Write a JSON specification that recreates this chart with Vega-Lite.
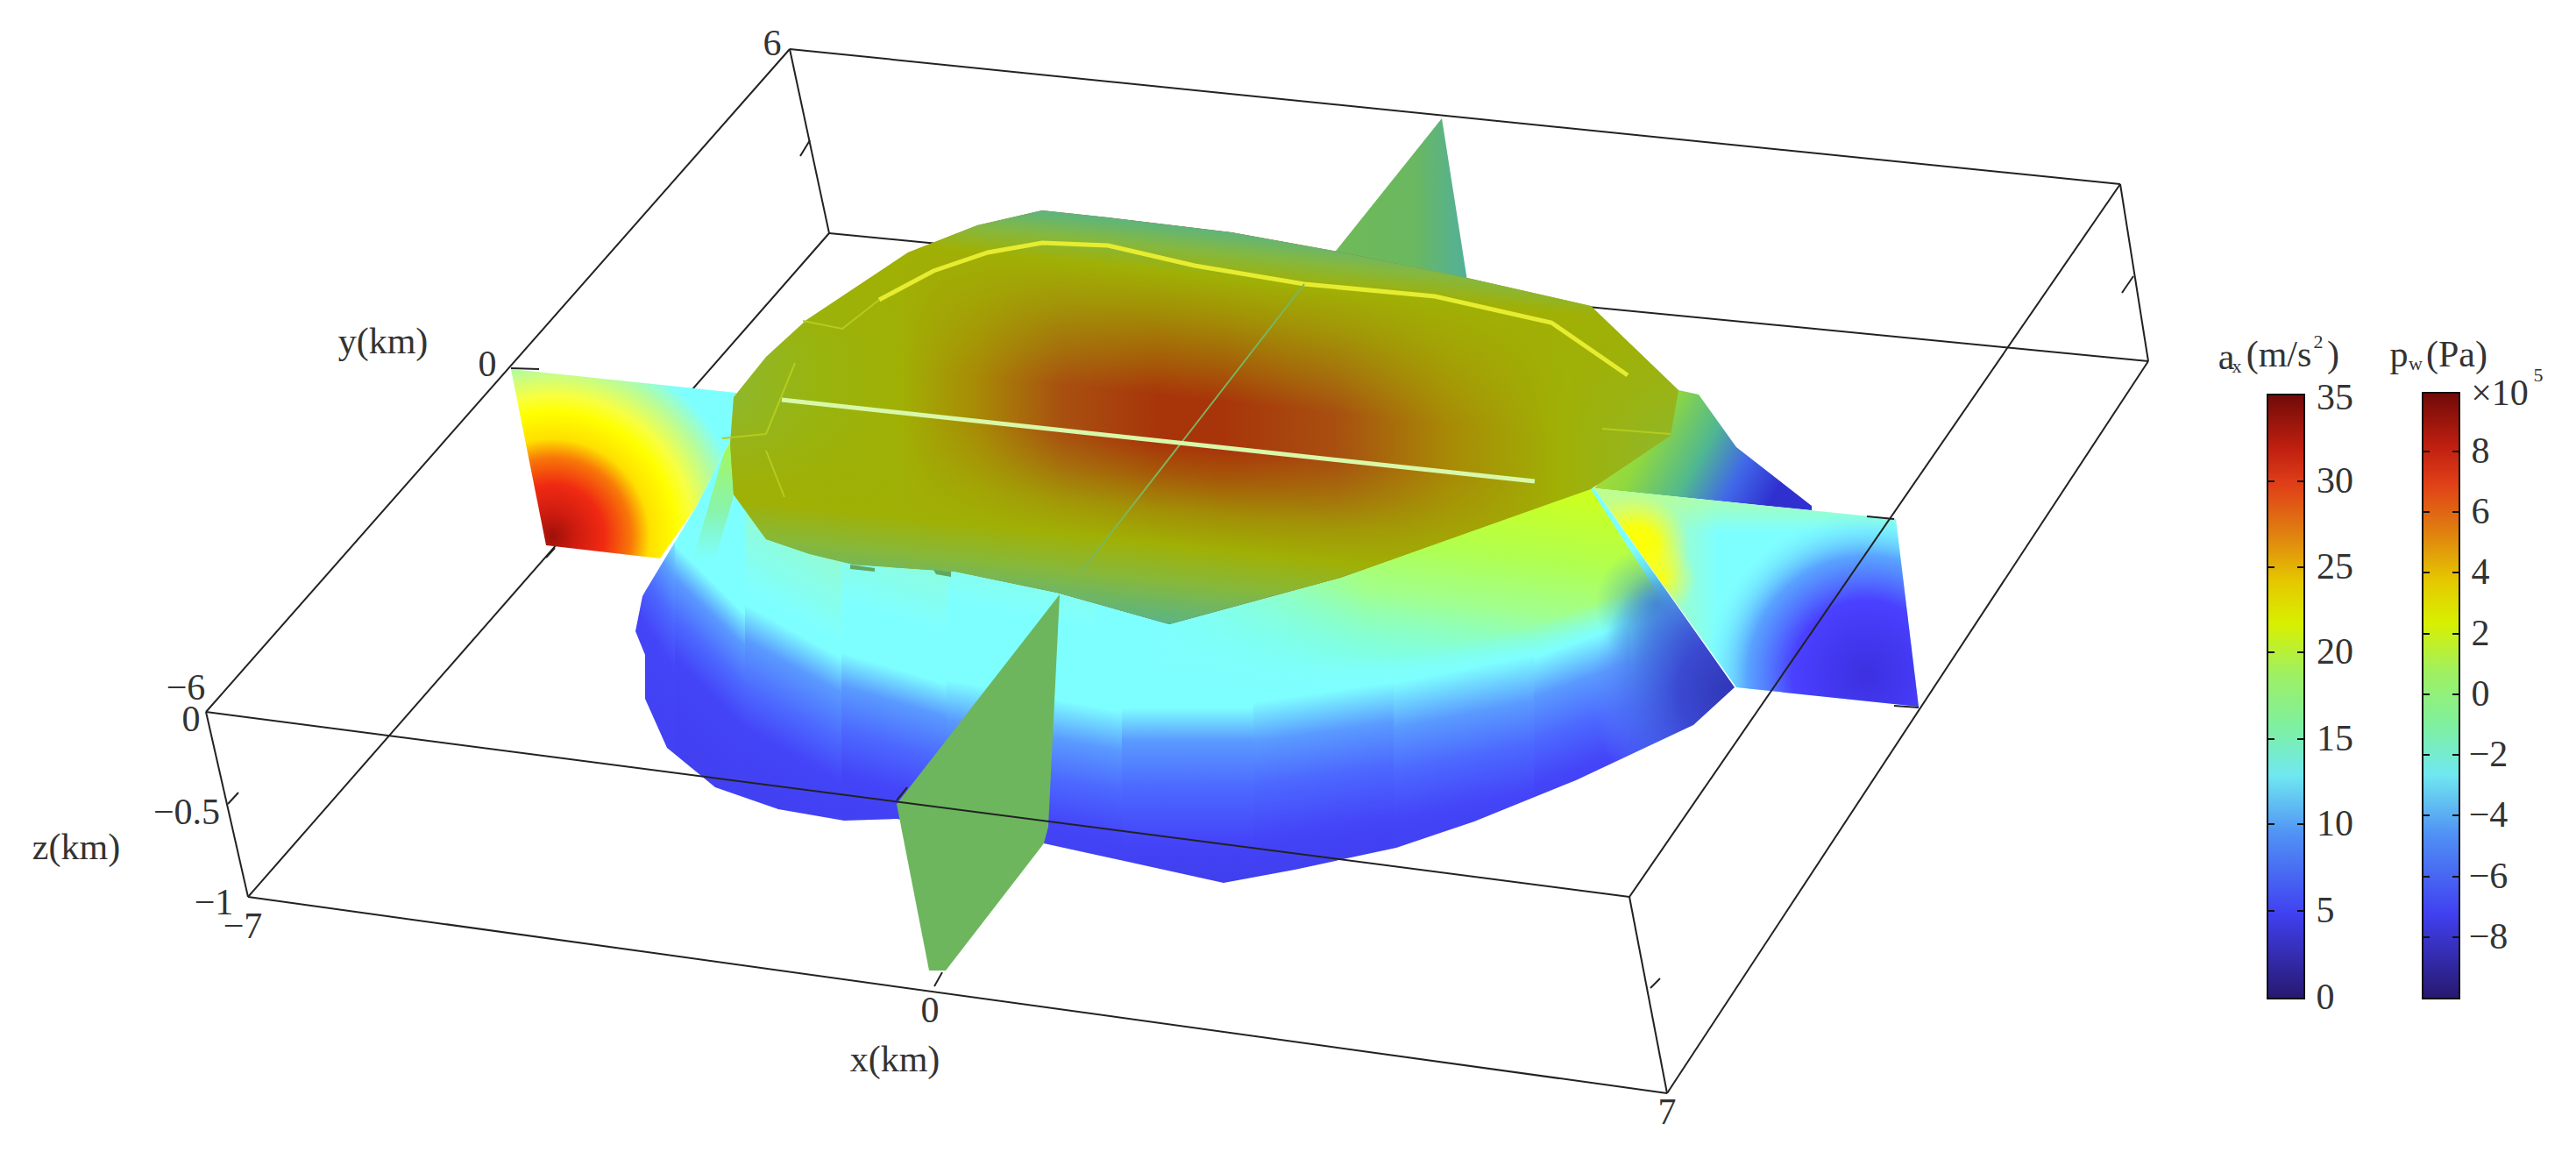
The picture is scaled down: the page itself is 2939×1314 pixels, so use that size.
{"$schema":"https://vega.github.io/schema/vega-lite/v6.json","width":2939,"height":1314,"padding":0,"autosize":{"type":"fit","contains":"padding"},"background":"white","config":{"view":{"stroke":null}},
"datasets":{
"polys":[
{"p":"top","i":0,"x":1189,"y":240},{"p":"top","i":1,"x":1115,"y":257},{"p":"top","i":2,"x":1036,"y":288},{"p":"top","i":3,"x":920,"y":365},{"p":"top","i":4,"x":874,"y":407},{"p":"top","i":5,"x":837,"y":453},{"p":"top","i":6,"x":833,"y":506},{"p":"top","i":7,"x":837,"y":564},{"p":"top","i":8,"x":874,"y":615},{"p":"top","i":9,"x":924,"y":632},{"p":"top","i":10,"x":974,"y":644},{"p":"top","i":11,"x":1090,"y":652},{"p":"top","i":12,"x":1206,"y":676},{"p":"top","i":13,"x":1334,"y":712},{"p":"top","i":14,"x":1529,"y":659},{"p":"top","i":15,"x":1815,"y":558},{"p":"top","i":16,"x":1906,"y":497},{"p":"top","i":17,"x":1915,"y":445},{"p":"top","i":18,"x":1815,"y":349},{"p":"top","i":19,"x":1674,"y":317},{"p":"top","i":20,"x":1521,"y":286},{"p":"top","i":21,"x":1405,"y":265},{"p":"top","i":22,"x":1264,"y":248},
{"p":"skirt","i":0,"x":725,"y":503},{"p":"skirt","i":1,"x":1979,"y":503},{"p":"skirt","i":2,"x":1979,"y":1007},{"p":"skirt","i":3,"x":725,"y":1007},
{"p":"mask","i":0,"x":700,"y":490},{"p":"mask","i":1,"x":2010,"y":490},{"p":"mask","i":2,"x":2010,"y":1035},{"p":"mask","i":3,"x":700,"y":1035},{"p":"mask","i":4,"x":700,"y":490},
{"p":"mask","i":5,"x":833,"y":503},{"p":"mask","i":6,"x":793,"y":580},{"p":"mask","i":7,"x":737,"y":673},{"p":"mask","i":8,"x":733,"y":680},{"p":"mask","i":9,"x":725,"y":720},{"p":"mask","i":10,"x":736,"y":747},{"p":"mask","i":11,"x":736,"y":797},{"p":"mask","i":12,"x":761,"y":853},{"p":"mask","i":13,"x":816,"y":898},{"p":"mask","i":14,"x":888,"y":923},{"p":"mask","i":15,"x":963,"y":936},{"p":"mask","i":16,"x":1023,"y":934},{"p":"mask","i":17,"x":1191,"y":962},{"p":"mask","i":18,"x":1396,"y":1007},{"p":"mask","i":19,"x":1477,"y":992},{"p":"mask","i":20,"x":1593,"y":967},{"p":"mask","i":21,"x":1682,"y":937},{"p":"mask","i":22,"x":1798,"y":890},{"p":"mask","i":23,"x":1932,"y":827},{"p":"mask","i":24,"x":1979,"y":784},{"p":"mask","i":25,"x":1819,"y":557},{"p":"mask","i":26,"x":1334,"y":600},{"p":"mask","i":27,"x":833,"y":503},{"p":"mask","i":28,"x":700,"y":490},
{"p":"lime","i":0,"x":1334,"y":712},{"p":"lime","i":1,"x":1815,"y":558},{"p":"lime","i":2,"x":1900,"y":690},{"p":"lime","i":3,"x":1979,"y":784},{"p":"lime","i":4,"x":1780,"y":840},{"p":"lime","i":5,"x":1300,"y":770},
{"p":"fade","i":0,"x":1250,"y":690},{"p":"fade","i":1,"x":1560,"y":640},{"p":"fade","i":2,"x":1560,"y":780},{"p":"fade","i":3,"x":1250,"y":780},
{"p":"strip","i":0,"x":830,"y":503},{"p":"strip","i":1,"x":842,"y":525},{"p":"strip","i":2,"x":836,"y":570},{"p":"strip","i":3,"x":815,"y":640},{"p":"strip","i":4,"x":790,"y":640},
{"p":"back","i":0,"x":1915,"y":445},{"p":"back","i":1,"x":1938,"y":450},{"p":"back","i":2,"x":1981,"y":510},{"p":"back","i":3,"x":2067,"y":577},{"p":"back","i":4,"x":2067,"y":582},{"p":"back","i":5,"x":1819,"y":557},
{"p":"leftp","i":0,"x":583,"y":421},{"p":"leftp","i":1,"x":623,"y":622},{"p":"leftp","i":2,"x":753,"y":637},{"p":"leftp","i":3,"x":793,"y":580},{"p":"leftp","i":4,"x":833,"y":503},{"p":"leftp","i":5,"x":840,"y":448},
{"p":"rightp","i":0,"x":1819,"y":557},{"p":"rightp","i":1,"x":2163,"y":592},{"p":"rightp","i":2,"x":2189,"y":806},{"p":"rightp","i":3,"x":1981,"y":784},
{"p":"gback","i":0,"x":1645,"y":135},{"p":"gback","i":1,"x":1521,"y":290},{"p":"gback","i":2,"x":1674,"y":320},
{"p":"gfront","i":0,"x":1209,"y":678},{"p":"gfront","i":1,"x":1196,"y":943},{"p":"gfront","i":2,"x":1191,"y":962},{"p":"gfront","i":3,"x":1079,"y":1107},{"p":"gfront","i":4,"x":1060,"y":1107},{"p":"gfront","i":5,"x":1023,"y":917},
{"p":"nub1","i":0,"x":970,"y":644},{"p":"nub1","i":1,"x":998,"y":648},{"p":"nub1","i":2,"x":998,"y":652},{"p":"nub1","i":3,"x":970,"y":649},
{"p":"nub2","i":0,"x":1065,"y":650},{"p":"nub2","i":1,"x":1085,"y":652},{"p":"nub2","i":2,"x":1085,"y":658},{"p":"nub2","i":3,"x":1068,"y":655}
],
"slices":[
{"s":1,"x":700,"x2":770,"y":503,"y2":1030},{"s":2,"x":770,"x2":850,"y":503,"y2":1030},{"s":3,"x":850,"x2":960,"y":503,"y2":1030},{"s":4,"x":960,"x2":1080,"y":503,"y2":1030},{"s":5,"x":1080,"x2":1280,"y":503,"y2":1030},{"s":6,"x":1280,"x2":1430,"y":503,"y2":1030},{"s":7,"x":1430,"x2":1590,"y":503,"y2":1030},{"s":8,"x":1590,"x2":1750,"y":503,"y2":1030},{"s":9,"x":1750,"x2":1860,"y":503,"y2":1030},{"s":10,"x":1860,"x2":1940,"y":503,"y2":1030},{"s":11,"x":1940,"x2":2000,"y":503,"y2":1030}
],
"backEdges":[
{"e":"a","i":0,"x":901,"y":56},{"e":"a","i":1,"x":2419,"y":210},
{"e":"b","i":0,"x":901,"y":56},{"e":"b","i":1,"x":235,"y":812},
{"e":"c","i":0,"x":901,"y":56},{"e":"c","i":1,"x":946,"y":266},
{"e":"d","i":0,"x":946,"y":266},{"e":"d","i":1,"x":283,"y":1023},
{"e":"f","i":0,"x":946,"y":266},{"e":"f","i":1,"x":2451,"y":412},
{"e":"g","i":0,"x":2419,"y":210},{"e":"g","i":1,"x":2451,"y":412},
{"e":"h","i":0,"x":2451,"y":412},{"e":"h","i":1,"x":1902,"y":1247}
],
"frontEdges":[
{"e":"k","i":0,"x":2419,"y":210},{"e":"k","i":1,"x":1859,"y":1023},
{"e":"l","i":0,"x":235,"y":812},{"e":"l","i":1,"x":1859,"y":1023},
{"e":"m","i":0,"x":235,"y":812},{"e":"m","i":1,"x":283,"y":1023},
{"e":"n","i":0,"x":283,"y":1023},{"e":"n","i":1,"x":1902,"y":1247},
{"e":"o","i":0,"x":1859,"y":1023},{"e":"o","i":1,"x":1902,"y":1247},
{"e":"t1","i":0,"x":1075,"y":1109},{"e":"t1","i":1,"x":1066,"y":1125},
{"e":"t2","i":0,"x":1035,"y":898},{"e":"t2","i":1,"x":1023,"y":913},
{"e":"t3","i":0,"x":583,"y":420},{"e":"t3","i":1,"x":615,"y":421},
{"e":"t4","i":0,"x":2130,"y":589},{"e":"t4","i":1,"x":2161,"y":592},
{"e":"t5","i":0,"x":2161,"y":805},{"e":"t5","i":1,"x":2189,"y":807},
{"e":"t6","i":0,"x":260,"y":917},{"e":"t6","i":1,"x":272,"y":904},
{"e":"t7","i":0,"x":913,"y":178},{"e":"t7","i":1,"x":924,"y":160},
{"e":"t8","i":0,"x":2421,"y":334},{"e":"t8","i":1,"x":2434,"y":315},
{"e":"t9","i":0,"x":1883,"y":1127},{"e":"t9","i":1,"x":1894,"y":1116},
{"e":"t10","i":0,"x":633,"y":625},{"e":"t10","i":1,"x":623,"y":636}
],
"light":[{"i":0,"x":892,"y":456},{"i":1,"x":1751,"y":549}],
"vert":[{"i":0,"x":1488,"y":324},{"i":1,"x":1347,"y":506},{"i":2,"x":1231,"y":655}],
"yellow":[{"i":0,"x":1003,"y":342},{"i":1,"x":1065,"y":309},{"i":2,"x":1127,"y":288},{"i":3,"x":1189,"y":277},{"i":4,"x":1264,"y":280},{"i":5,"x":1363,"y":303},{"i":6,"x":1488,"y":324},{"i":7,"x":1637,"y":338},{"i":8,"x":1770,"y":368},{"i":9,"x":1857,"y":428}],
"minor":[{"e":"a","i":0,"x":824,"y":500},{"e":"a","i":1,"x":874,"y":495},{"e":"b","i":0,"x":916,"y":366},{"e":"b","i":1,"x":961,"y":375},{"e":"b","i":2,"x":1003,"y":342},{"e":"c","i":0,"x":1828,"y":489},{"e":"c","i":1,"x":1906,"y":495},{"e":"d","i":0,"x":907,"y":414},{"e":"d","i":1,"x":874,"y":495},{"e":"f","i":0,"x":874,"y":514},{"e":"f","i":1,"x":895,"y":567}],
"labels":[
{"t":"6","x":881,"y":50},{"t":"y(km)","x":437,"y":390},{"t":"0","x":556,"y":416},{"t":"−6","x":212,"y":785},{"t":"0","x":218,"y":821},{"t":"−0.5","x":213,"y":927},{"t":"z(km)","x":87,"y":967},{"t":"−1","x":244,"y":1030},{"t":"−7","x":277,"y":1057},{"t":"0","x":1061,"y":1153},{"t":"x(km)","x":1021,"y":1209},{"t":"7","x":1902,"y":1269},
{"t":"35","x":2664,"y":454},{"t":"30","x":2664,"y":549},{"t":"25","x":2664,"y":647},{"t":"20","x":2664,"y":744},{"t":"15","x":2664,"y":843},{"t":"10","x":2664,"y":940},{"t":"5","x":2653,"y":1039},{"t":"0","x":2653,"y":1138},
{"t":"8","x":2830,"y":515},{"t":"6","x":2830,"y":584},{"t":"4","x":2830,"y":653},{"t":"2","x":2830,"y":723},{"t":"0","x":2830,"y":792},{"t":"−2","x":2839,"y":861},{"t":"−4","x":2839,"y":930},{"t":"−6","x":2839,"y":1000},{"t":"−8","x":2839,"y":1069},
{"t":"×10","x":2852,"y":449},
{"t":"a","x":2540,"y":408},{"t":"(m/s","x":2600,"y":405},{"t":")","x":2662,"y":405},{"t":"p","x":2737,"y":405},{"t":"(Pa)","x":2803,"y":405}
],
"small":[{"t":"x","x":2552,"y":418},{"t":"2","x":2645,"y":390},{"t":"w","x":2756,"y":415},{"t":"5","x":2896,"y":428}],
"bars":[{"x":2587,"x2":2629,"y":450,"y2":1139},{"x":2764,"x2":2806,"y":448,"y2":1139}],
"barTicks":[
{"x":2587,"x2":2595,"y":549},{"x":2621,"x2":2629,"y":549},{"x":2587,"x2":2595,"y":647},{"x":2621,"x2":2629,"y":647},{"x":2587,"x2":2595,"y":744},{"x":2621,"x2":2629,"y":744},{"x":2587,"x2":2595,"y":843},{"x":2621,"x2":2629,"y":843},{"x":2587,"x2":2595,"y":940},{"x":2621,"x2":2629,"y":940},{"x":2587,"x2":2595,"y":1039},{"x":2621,"x2":2629,"y":1039},
{"x":2764,"x2":2772,"y":515},{"x":2798,"x2":2806,"y":515},{"x":2764,"x2":2772,"y":584},{"x":2798,"x2":2806,"y":584},{"x":2764,"x2":2772,"y":653},{"x":2798,"x2":2806,"y":653},{"x":2764,"x2":2772,"y":723},{"x":2798,"x2":2806,"y":723},{"x":2764,"x2":2772,"y":792},{"x":2798,"x2":2806,"y":792},{"x":2764,"x2":2772,"y":861},{"x":2798,"x2":2806,"y":861},{"x":2764,"x2":2772,"y":930},{"x":2798,"x2":2806,"y":930},{"x":2764,"x2":2772,"y":1000},{"x":2798,"x2":2806,"y":1000},{"x":2764,"x2":2772,"y":1069},{"x":2798,"x2":2806,"y":1069}
]
},
"data":{"name":"polys"},
"encoding":{"x":{"field":"x","type":"quantitative","scale":{"domain":[0,2939],"nice":false,"zero":false},"axis":null},"y":{"field":"y","type":"quantitative","scale":{"domain":[1314,0],"nice":false,"zero":false},"axis":null},"order":{"field":"i","type":"quantitative"}},
"layer":[
{"transform":[{"filter":"datum.p==='skirt'"}],"mark":{"type":"line","filled":true,"strokeWidth":0,"fill":"#7effff"}},
{"data":{"name":"slices"},"transform":[{"filter":"datum.s===1"}],"mark":{"type":"rect","fill":{"gradient":"linear","x1":0.6,"y1":0,"x2":0.4,"y2":1,"stops":[{"offset":0,"color":"#7effff"},{"offset":0.114,"color":"#7effff"},{"offset":0.214,"color":"#5a9aff"},{"offset":0.3,"color":"#4c68ff"},{"offset":0.4,"color":"#4444f8"},{"offset":1,"color":"#3c3ce8"}]}},"encoding":{"x2":{"field":"x2"},"y2":{"field":"y2"},"order":null}},
{"data":{"name":"slices"},"transform":[{"filter":"datum.s===2"}],"mark":{"type":"rect","fill":{"gradient":"linear","x1":0.575,"y1":0,"x2":0.425,"y2":1,"stops":[{"offset":0,"color":"#7effff"},{"offset":0.303,"color":"#7effff"},{"offset":0.374,"color":"#5a9aff"},{"offset":0.459,"color":"#4c68ff"},{"offset":0.545,"color":"#4444f8"},{"offset":1,"color":"#3c3ce8"}]}},"encoding":{"x2":{"field":"x2"},"y2":{"field":"y2"},"order":null}},
{"data":{"name":"slices"},"transform":[{"filter":"datum.s===3"}],"mark":{"type":"rect","fill":{"gradient":"linear","x1":0.558,"y1":0,"x2":0.442,"y2":1,"stops":[{"offset":0,"color":"#a0f8b0"},{"offset":0.22,"color":"#90fcd8"},{"offset":0.38,"color":"#7effff"},{"offset":0.412,"color":"#7effff"},{"offset":0.488,"color":"#5a9aff"},{"offset":0.592,"color":"#4c68ff"},{"offset":0.677,"color":"#4444f8"},{"offset":1,"color":"#3c3ce8"}]}},"encoding":{"x2":{"field":"x2"},"y2":{"field":"y2"},"order":null}},
{"data":{"name":"slices"},"transform":[{"filter":"datum.s===4"}],"mark":{"type":"rect","fill":{"gradient":"linear","x1":0.534,"y1":0,"x2":0.466,"y2":1,"stops":[{"offset":0,"color":"#a0f8b0"},{"offset":0.22,"color":"#90fcd8"},{"offset":0.38,"color":"#7effff"},{"offset":0.491,"color":"#7effff"},{"offset":0.564,"color":"#5a9aff"},{"offset":0.658,"color":"#4c68ff"},{"offset":0.753,"color":"#4444f8"},{"offset":1,"color":"#3c3ce8"}]}},"encoding":{"x2":{"field":"x2"},"y2":{"field":"y2"},"order":null}},
{"data":{"name":"slices"},"transform":[{"filter":"datum.s===5"}],"mark":{"type":"rect","fill":{"gradient":"linear","x1":0.534,"y1":0,"x2":0.466,"y2":1,"stops":[{"offset":0,"color":"#a0f8b0"},{"offset":0.22,"color":"#90fcd8"},{"offset":0.38,"color":"#7effff"},{"offset":0.55,"color":"#7effff"},{"offset":0.636,"color":"#5a9aff"},{"offset":0.725,"color":"#4c68ff"},{"offset":0.82,"color":"#4444f8"},{"offset":1,"color":"#3c3ce8"}]}},"encoding":{"x2":{"field":"x2"},"y2":{"field":"y2"},"order":null}},
{"data":{"name":"slices"},"transform":[{"filter":"datum.s===6"}],"mark":{"type":"rect","fill":{"gradient":"linear","x1":0.5,"y1":0,"x2":0.5,"y2":1,"stops":[{"offset":0,"color":"#7effff"},{"offset":0.577,"color":"#7effff"},{"offset":0.649,"color":"#5a9aff"},{"offset":0.753,"color":"#4c68ff"},{"offset":0.867,"color":"#4444f8"},{"offset":1,"color":"#3c3ce8"}]}},"encoding":{"x2":{"field":"x2"},"y2":{"field":"y2"},"order":null}},
{"transform":[{"filter":"datum.p==='lime'"}],"mark":{"type":"line","filled":true,"strokeWidth":0,"fill":{"gradient":"linear","x1":0.8,"y1":0,"x2":0.5,"y2":1,"stops":[{"offset":0,"color":"#d0ff18"},{"offset":0.3,"color":"#b0ff50"},{"offset":0.5,"color":"#a0ff90"},{"offset":0.72,"color":"rgba(130,255,200,0.55)"},{"offset":0.92,"color":"rgba(125,255,255,0)"},{"offset":1,"color":"rgba(125,255,255,0)"}]}}},
{"transform":[{"filter":"datum.p==='fade'"}],"mark":{"type":"line","filled":true,"strokeWidth":0,"fill":{"gradient":"linear","x1":0,"y1":0,"x2":1,"y2":0,"stops":[{"offset":0,"color":"rgba(126,255,255,1)"},{"offset":0.2,"color":"rgba(126,255,255,1)"},{"offset":1,"color":"rgba(126,255,255,0)"}]}}},
{"data":{"name":"slices"},"transform":[{"filter":"datum.s===7"}],"mark":{"type":"rect","fill":{"gradient":"linear","x1":0.478,"y1":0,"x2":0.522,"y2":1,"stops":[{"offset":0,"color":"rgba(126,255,255,0)"},{"offset":0.48,"color":"rgba(126,255,255,0)"},{"offset":0.543,"color":"#7effff"},{"offset":0.63,"color":"#5a9aff"},{"offset":0.725,"color":"#4c68ff"},{"offset":0.839,"color":"#4444f8"},{"offset":1,"color":"#3c3ce8"}]}},"encoding":{"x2":{"field":"x2"},"y2":{"field":"y2"},"order":null}},
{"data":{"name":"slices"},"transform":[{"filter":"datum.s===8"}],"mark":{"type":"rect","fill":{"gradient":"linear","x1":0.47,"y1":0,"x2":0.53,"y2":1,"stops":[{"offset":0,"color":"rgba(126,255,255,0)"},{"offset":0.43,"color":"rgba(126,255,255,0)"},{"offset":0.493,"color":"#7effff"},{"offset":0.592,"color":"#5a9aff"},{"offset":0.687,"color":"#4c68ff"},{"offset":0.791,"color":"#4444f8"},{"offset":1,"color":"#3c3ce8"}]}},"encoding":{"x2":{"field":"x2"},"y2":{"field":"y2"},"order":null}},
{"data":{"name":"slices"},"transform":[{"filter":"datum.s===9"}],"mark":{"type":"rect","fill":{"gradient":"linear","x1":0.462,"y1":0,"x2":0.538,"y2":1,"stops":[{"offset":0,"color":"rgba(126,255,255,0)"},{"offset":0.36,"color":"rgba(126,255,255,0)"},{"offset":0.431,"color":"#7effff"},{"offset":0.516,"color":"#5a9aff"},{"offset":0.611,"color":"#4c68ff"},{"offset":0.706,"color":"#4444f8"},{"offset":1,"color":"#3c3ce8"}]}},"encoding":{"x2":{"field":"x2"},"y2":{"field":"y2"},"order":null}},
{"data":{"name":"slices"},"transform":[{"filter":"datum.s===10"}],"mark":{"type":"rect","fill":{"gradient":"linear","x1":0.468,"y1":0,"x2":0.532,"y2":1,"stops":[{"offset":0,"color":"rgba(126,255,255,0)"},{"offset":0.3,"color":"rgba(126,255,255,0)"},{"offset":0.374,"color":"#7effff"},{"offset":0.459,"color":"#5a9aff"},{"offset":0.545,"color":"#4c68ff"},{"offset":0.63,"color":"#4444f8"},{"offset":1,"color":"#3c3ce8"}]}},"encoding":{"x2":{"field":"x2"},"y2":{"field":"y2"},"order":null}},
{"data":{"name":"slices"},"transform":[{"filter":"datum.s===11"}],"mark":{"type":"rect","fill":{"gradient":"linear","x1":0.466,"y1":0,"x2":0.534,"y2":1,"stops":[{"offset":0,"color":"rgba(126,255,255,0)"},{"offset":0.22,"color":"rgba(126,255,255,0)"},{"offset":0.298,"color":"#7effff"},{"offset":0.383,"color":"#5a9aff"},{"offset":0.459,"color":"#4c68ff"},{"offset":0.545,"color":"#4444f8"},{"offset":1,"color":"#3c3ce8"}]}},"encoding":{"x2":{"field":"x2"},"y2":{"field":"y2"},"order":null}},
{"transform":[{"filter":"datum.p==='skirt'"}],"mark":{"type":"line","filled":true,"strokeWidth":0,"fill":{"gradient":"radial","x1":0.929,"y1":0.448,"r1":0,"x2":0.929,"y2":0.448,"r2":0.056,"stops":[{"offset":0,"color":"rgba(50,120,190,0.8)"},{"offset":1,"color":"rgba(60,170,200,0)"}]}}},
{"transform":[{"filter":"datum.p==='skirt'"}],"mark":{"type":"line","filled":true,"strokeWidth":0,"fill":{"gradient":"radial","x1":0.96,"y1":0.48,"r1":0,"x2":0.96,"y2":0.48,"r2":0.075,"stops":[{"offset":0,"color":"rgba(50,80,190,0.85)"},{"offset":1,"color":"rgba(60,150,220,0)"}]}}},
{"transform":[{"filter":"datum.p==='skirt'"}],"mark":{"type":"line","filled":true,"strokeWidth":0,"fill":{"gradient":"radial","x1":1.0,"y1":0.528,"r1":0,"x2":1.0,"y2":0.528,"r2":0.13,"stops":[{"offset":0,"color":"#2f35b5"},{"offset":0.4,"color":"rgba(58,72,208,0.95)"},{"offset":0.7,"color":"rgba(70,110,230,0.6)"},{"offset":1,"color":"rgba(90,150,250,0)"}]}}},
{"transform":[{"filter":"datum.p==='strip'"}],"mark":{"type":"line","filled":true,"strokeWidth":0,"fill":{"gradient":"linear","x1":0,"y1":0,"x2":0,"y2":1,"stops":[{"offset":0,"color":"rgba(168,248,80,1)"},{"offset":0.6,"color":"rgba(140,240,140,0.7)"},{"offset":1,"color":"rgba(130,240,170,0)"}]}}},
{"transform":[{"filter":"datum.p==='mask'"}],"mark":{"type":"line","filled":true,"strokeWidth":0,"fill":"white"}},
{"data":{"name":"backEdges"},"mark":{"type":"line","color":"#222","strokeWidth":2},"encoding":{"detail":{"field":"e"}}},
{"transform":[{"filter":"datum.p==='gback'"}],"mark":{"type":"line","filled":true,"strokeWidth":0,"fill":{"gradient":"linear","x1":0,"y1":0,"x2":1,"y2":0,"stops":[{"offset":0,"color":"#6fba58"},{"offset":0.6,"color":"#6ab860"},{"offset":1,"color":"#52b09a"}]}}},
{"transform":[{"filter":"datum.p==='back'"}],"mark":{"type":"line","filled":true,"strokeWidth":0,"fill":{"gradient":"linear","x1":0,"y1":0,"x2":1,"y2":0.3,"stops":[{"offset":0,"color":"#c5e030"},{"offset":0.35,"color":"#8fd840"},{"offset":0.6,"color":"#50b890"},{"offset":0.8,"color":"#4068e8"},{"offset":1,"color":"#3030d0"}]}}},
{"transform":[{"filter":"datum.p==='leftp'"}],"mark":{"type":"line","filled":true,"strokeWidth":0,"fill":{"gradient":"radial","x1":0.184,"y1":0.822,"r1":0,"x2":0.184,"y2":0.822,"r2":0.92,"stops":[{"offset":0,"color":"#a01008"},{"offset":0.12,"color":"#d01c10"},{"offset":0.25,"color":"#f02a12"},{"offset":0.38,"color":"#f87808"},{"offset":0.47,"color":"#ffe000"},{"offset":0.6,"color":"#ffff00"},{"offset":0.68,"color":"#f8ff40"},{"offset":0.82,"color":"#b4fca0"},{"offset":0.93,"color":"#7effff"}]}}},
{"transform":[{"filter":"datum.p==='rightp'"}],"mark":{"type":"line","filled":true,"strokeWidth":0,"fill":{"gradient":"linear","x1":0,"y1":0,"x2":1,"y2":0,"stops":[{"offset":0,"color":"#e0fb60"},{"offset":0.15,"color":"#b4fca0"},{"offset":0.38,"color":"#7effff"},{"offset":1,"color":"#7effff"}]}}},
{"transform":[{"filter":"datum.p==='rightp'"}],"mark":{"type":"line","filled":true,"strokeWidth":0,"fill":{"gradient":"linear","x1":0,"y1":0,"x2":0,"y2":1,"stops":[{"offset":0,"color":"rgba(184,255,150,0.9)"},{"offset":0.2,"color":"rgba(184,255,150,0)"},{"offset":1,"color":"rgba(184,255,150,0)"}]}}},
{"transform":[{"filter":"datum.p==='rightp'"}],"mark":{"type":"line","filled":true,"strokeWidth":0,"fill":{"gradient":"radial","x1":0.132,"y1":0.342,"r1":0,"x2":0.132,"y2":0.342,"r2":0.16,"stops":[{"offset":0,"color":"rgba(255,255,0,1)"},{"offset":0.4,"color":"rgba(255,255,0,0.9)"},{"offset":1,"color":"rgba(255,255,60,0)"}]}}},
{"transform":[{"filter":"datum.p==='rightp'"}],"mark":{"type":"line","filled":true,"strokeWidth":0,"fill":{"gradient":"radial","x1":0.205,"y1":0.442,"r1":0,"x2":0.205,"y2":0.442,"r2":0.11,"stops":[{"offset":0,"color":"rgba(255,255,0,0.9)"},{"offset":1,"color":"rgba(255,255,60,0)"}]}}},
{"transform":[{"filter":"datum.p==='rightp'"}],"mark":{"type":"line","filled":true,"strokeWidth":0,"fill":{"gradient":"radial","x1":0.84,"y1":0.739,"r1":0,"x2":0.84,"y2":0.739,"r2":0.51,"stops":[{"offset":0,"color":"#3c30e0"},{"offset":0.45,"color":"#4a40ff"},{"offset":0.72,"color":"rgba(80,140,255,0.8)"},{"offset":1,"color":"rgba(125,255,255,0)"}]}}},
{"transform":[{"filter":"datum.p==='top'"}],"mark":{"type":"line","filled":true,"strokeWidth":0,"fill":{"gradient":"linear","x1":0,"y1":0,"x2":1,"y2":0,"stops":[{"offset":0,"color":"#8fb82c"},{"offset":0.09,"color":"#98b40f"},{"offset":0.18,"color":"#a0b005"},{"offset":0.26,"color":"#a88a06"},{"offset":0.35,"color":"#a85010"},{"offset":0.45,"color":"#a8350a"},{"offset":0.52,"color":"#a8350a"},{"offset":0.64,"color":"#a85010"},{"offset":0.758,"color":"#a88a06"},{"offset":0.873,"color":"#a0b005"},{"offset":1,"color":"#8fb82c"}]}}},
{"transform":[{"filter":"datum.p==='top'"}],"mark":{"type":"line","filled":true,"strokeWidth":0,"fill":{"gradient":"linear","x1":0.62,"y1":0,"x2":0.38,"y2":1,"stops":[{"offset":0,"color":"#5ab585"},{"offset":0.07,"color":"#5fb57a"},{"offset":0.12,"color":"#85b840"},{"offset":0.176,"color":"#a0b005"},{"offset":0.27,"color":"rgba(160,176,5,0.72)"},{"offset":0.385,"color":"rgba(160,176,5,0.3)"},{"offset":0.46,"color":"rgba(160,176,5,0)"},{"offset":0.57,"color":"rgba(160,176,5,0)"},{"offset":0.64,"color":"rgba(160,176,5,0.3)"},{"offset":0.72,"color":"rgba(160,176,5,0.72)"},{"offset":0.8,"color":"#a0b005"},{"offset":0.88,"color":"#88b838"},{"offset":0.98,"color":"#5ab585"}]}}},
{"transform":[{"filter":"datum.p==='nub1'||datum.p==='nub2'"}],"mark":{"type":"line","filled":true,"strokeWidth":0,"fill":"#5fa860"},"encoding":{"detail":{"field":"p"}}},
{"data":{"name":"yellow"},"mark":{"type":"line","color":"#e6ec30","strokeWidth":5}},
{"data":{"name":"minor"},"mark":{"type":"line","color":"#b4cc20","strokeWidth":2},"encoding":{"detail":{"field":"e"}}},
{"data":{"name":"vert"},"mark":{"type":"line","color":"#78b860","strokeWidth":2}},
{"data":{"name":"light"},"mark":{"type":"line","color":"#d8f8aa","strokeWidth":5}},
{"transform":[{"filter":"datum.p==='gfront'"}],"mark":{"type":"line","filled":true,"strokeWidth":0,"fill":"#6db65e"}},
{"data":{"name":"frontEdges"},"mark":{"type":"line","color":"#222","strokeWidth":2},"encoding":{"detail":{"field":"e"}}},
{"data":{"name":"bars"},"mark":{"type":"rect","stroke":"#111","strokeWidth":2,"fill":{"gradient":"linear","x1":0,"y1":0,"x2":0,"y2":1,"stops":[{"offset":0,"color":"#700a08"},{"offset":0.09,"color":"#c02010"},{"offset":0.15,"color":"#e04018"},{"offset":0.23,"color":"#e08010"},{"offset":0.31,"color":"#e5c800"},{"offset":0.38,"color":"#d8f000"},{"offset":0.46,"color":"#a0f060"},{"offset":0.55,"color":"#7ef0a0"},{"offset":0.63,"color":"#70e8f0"},{"offset":0.73,"color":"#5090f5"},{"offset":0.86,"color":"#4040f0"},{"offset":1,"color":"#27186e"}]}},"encoding":{"x2":{"field":"x2"},"y2":{"field":"y2"},"order":null}},
{"data":{"name":"barTicks"},"mark":{"type":"rule","color":"#111","strokeWidth":2},"encoding":{"x2":{"field":"x2"},"order":null}},
{"data":{"name":"labels"},"mark":{"type":"text","font":"Liberation Serif","fontSize":42,"color":"#333"},"encoding":{"text":{"field":"t"},"order":null}},
{"data":{"name":"small"},"mark":{"type":"text","font":"Liberation Serif","fontSize":22,"color":"#333"},"encoding":{"text":{"field":"t"},"order":null}}
]}
